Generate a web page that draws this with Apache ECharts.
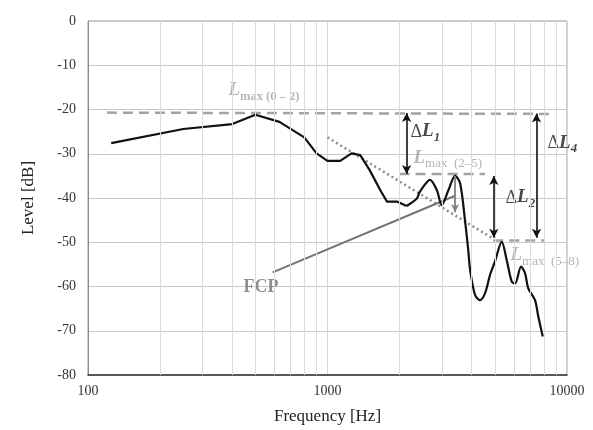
<!DOCTYPE html>
<html>
<head>
<meta charset="utf-8">
<script src="https://cdn.jsdelivr.net/npm/echarts@6/dist/echarts.min.js"></script>
<style>
  html, body { margin: 0; padding: 0; background: #fff; }
  #chart { width: 593px; height: 430px; }
</style>
</head>
<body>
<div id="chart"></div>
<script>
// 频谱曲线（频率 Hz, 声级 dB）
const freqs = [125, 250, 400, 500, 630, 800, 900, 1000, 1130, 1260, 1370, 1500, 1660, 1770, 1950, 2140,
    2360, 2430, 2680, 2860, 3000, 3200, 3410, 3580, 3750, 3870, 3940, 4130, 4330, 4550, 4770, 5000,
    5340, 5600, 5880, 6070, 6430, 6680, 6890, 7350, 7590, 7920];
const levels = [-27.6, -24.4, -23.3, -21.2, -22.8, -26.3, -29.9, -31.6, -31.6, -29.9, -30.3, -33.7, -38.2, -40.8, -40.8, -41.8,
    -40.1, -38.6, -35.9, -38.2, -41.6, -38.2, -35.0, -36.7, -45.0, -51.8, -56.3, -61.9, -63.1, -61.5, -57.4, -54.4,
    -49.9, -54.0, -58.9, -59.3, -55.5, -57.0, -60.4, -63.1, -66.8, -71.3];
// 低频段为折线，高频段为平滑曲线（分界点下标）
const smoothFrom = 15;

// Lmax 参考线 [起点, 终点]
const lmax02 = [[120, -20.7], [8500, -21.0]];
const lmax25 = [[2000, -34.6], [4550, -34.6]];
const lmax58 = [[4920, -49.6], [8100, -49.6]];
// 斜率点线
const slopeLine = [[1000, -26.3], [4920, -49.2]];
// FCP 引线
const fcpLine = [[590, -56.8], [3410, -39.5]];
const fcpArrow = [[3410, -35.0], [3410, -43.2]];
// 双向箭头
const dL1 = [[2140, -20.8], [2140, -34.6]];
const dL2 = [[4950, -35.0], [4950, -49.0]];
const dL4 = [[7460, -20.9], [7460, -49.0]];

// 刻度
const yTicks = [-80, -70, -60, -50, -40, -30, -20, -10, 0];
const xMinorGrid = [200, 300, 400, 500, 600, 700, 800, 900, 2000, 3000, 4000, 5000, 6000, 7000, 8000, 9000];

// 注释文字锚点
const notes = [
    { name: 'l02', value: [384, -15.8], text: '{L|L}{s|max (0 – 2)}' },
    { name: 'l25', value: [2275, -31.0], text: '{L|L}{t|max  (2–5)}' },
    { name: 'l58', value: [5780, -53.1], text: '{L|L}{t|max  (5–8)}' },
    { name: 'd1', value: [2211, -25.1], text: '{d|Δ}{b|L}{n|1}' },
    { name: 'd2', value: [5509, -40.0], text: '{d|Δ}{b|L}{n|2}' },
    { name: 'd4', value: [8252, -27.6], text: '{d|Δ}{b|L}{n|4}' },
    { name: 'fcp', value: [444, -60.3], text: '{f|FCP}' }
];

const serif = '"Liberation Serif", "DejaVu Serif", serif';
const chart = echarts.init(document.getElementById('chart'));

function arrowLine(pair, color, width) {
    return [
        { coord: pair[0], lineStyle: { color: color, width: width, type: 'solid' } },
        { coord: pair[1] }
    ];
}

const lightGray = '#a3a3a3';
const richText = {
    L: { fontFamily: serif, fontSize: 19, fontStyle: 'italic', fontWeight: 'bold', color: lightGray, verticalAlign: 'bottom', lineHeight: 18 },
    s: { fontFamily: serif, fontSize: 12.5, fontWeight: 'bold', color: lightGray, verticalAlign: 'bottom', lineHeight: 12, padding: [0, 0, -3, 0] },
    t: { fontFamily: serif, fontSize: 13, color: lightGray, verticalAlign: 'bottom', lineHeight: 12, padding: [0, 0, -3, 0] },
    d: { fontFamily: serif, fontSize: 18, color: '#1a1a1a', verticalAlign: 'bottom', lineHeight: 18 },
    b: { fontFamily: serif, fontSize: 19, fontStyle: 'italic', fontWeight: 'bold', color: '#1a1a1a', verticalAlign: 'bottom', lineHeight: 18 },
    n: { fontFamily: serif, fontSize: 13, fontStyle: 'italic', fontWeight: 'bold', color: '#1a1a1a', verticalAlign: 'bottom', lineHeight: 13, padding: [0, 0, -3, 0] },
    f: { fontFamily: serif, fontSize: 18, fontWeight: 'bold', color: '#737373' }
};

const curve = freqs.map((f, i) => [f, levels[i]]);

chart.setOption({
    animation: false,
    backgroundColor: '#fff',
    grid: { left: 88, right: 26, top: 21, bottom: 55, show: true, borderColor: '#9a9a9a', borderWidth: 1 },
    xAxis: {
        type: 'log',
        logBase: 10,
        min: 100,
        max: 10000,
        name: 'Frequency [Hz]',
        nameLocation: 'middle',
        nameGap: 33,
        nameTextStyle: { fontFamily: serif, fontSize: 17, color: '#222' },
        axisLine: { show: true, onZero: false, lineStyle: { color: '#333', width: 1.5 } },
        axisTick: { show: false },
        axisLabel: { fontFamily: serif, fontSize: 14, color: '#333', margin: 9, formatter: v => String(v) },
        splitLine: { show: true, lineStyle: { color: '#d6d6d6', width: 1 } }
    },
    yAxis: {
        type: 'value',
        min: yTicks[0],
        max: yTicks[yTicks.length - 1],
        interval: 10,
        name: 'Level [dB]',
        nameLocation: 'middle',
        nameGap: 51,
        nameTextStyle: { fontFamily: serif, fontSize: 17, color: '#222' },
        axisLine: { show: true, lineStyle: { color: '#8c8c8c', width: 1 } },
        axisTick: { show: false },
        axisLabel: { fontFamily: serif, fontSize: 14, color: '#333', margin: 12 },
        splitLine: { show: true, lineStyle: { color: '#c9c9c9', width: 1 } }
    },
    series: [
        {
            // 次网格线
            name: 'minorGrid',
            type: 'line',
            data: [],
            silent: true,
            markLine: {
                silent: true,
                symbol: 'none',
                label: { show: false },
                lineStyle: { color: '#dcdcdc', width: 1, type: 'solid' },
                data: xMinorGrid.map(v => ({ xAxis: v }))
            }
        },
        {
            name: 'Lmax02',
            type: 'line',
            data: lmax02,
            symbol: 'none',
            lineStyle: { color: lightGray, width: 2.5, type: [10, 6] }
        },
        {
            name: 'Lmax25',
            type: 'line',
            data: lmax25,
            symbol: 'none',
            lineStyle: { color: lightGray, width: 2.5, type: [10, 6] }
        },
        {
            name: 'Lmax58',
            type: 'line',
            data: lmax58,
            symbol: 'none',
            lineStyle: { color: lightGray, width: 2.5, type: [10, 6] }
        },
        {
            name: 'slope',
            type: 'line',
            data: slopeLine,
            symbol: 'none',
            lineStyle: { color: '#8a8a8a', width: 2.5, type: [2, 3] }
        },
        {
            name: 'fcp',
            type: 'line',
            data: fcpLine,
            symbol: 'none',
            lineStyle: { color: '#747474', width: 2 }
        },
        {
            name: 'levelLow',
            type: 'line',
            data: curve.slice(0, smoothFrom + 1),
            symbol: 'none',
            lineStyle: { color: '#111', width: 2.2, join: 'round' }
        },
        {
            name: 'levelHigh',
            type: 'line',
            data: curve.slice(smoothFrom),
            symbol: 'none',
            smooth: 0.3,
            lineStyle: { color: '#111', width: 2.2 }
        },
        {
            // 箭头
            name: 'arrows',
            type: 'line',
            data: [],
            silent: true,
            markLine: {
                silent: true,
                symbol: ['arrow', 'arrow'],
                symbolSize: [7, 9],
                label: { show: false },
                data: [
                    arrowLine(dL1, '#111', 1.6),
                    arrowLine(dL2, '#111', 1.6),
                    arrowLine(dL4, '#111', 1.6)
                ]
            }
        },
        {
            name: 'fcpArrow',
            type: 'line',
            data: [],
            silent: true,
            markLine: {
                silent: true,
                symbol: ['none', 'arrow'],
                symbolSize: [6, 8],
                label: { show: false },
                data: [arrowLine(fcpArrow, '#808080', 1.8)]
            }
        },
        {
            // 注释文字
            name: 'notes',
            type: 'scatter',
            symbolSize: 1,
            itemStyle: { color: 'rgba(0,0,0,0)' },
            data: notes.map(n => ({ name: n.name, value: n.value, text: n.text })),
            label: {
                show: true,
                position: 'right',
                distance: 0,
                formatter: p => p.data.text,
                rich: richText
            }
        }
    ]
});
</script>
</body>
</html>
